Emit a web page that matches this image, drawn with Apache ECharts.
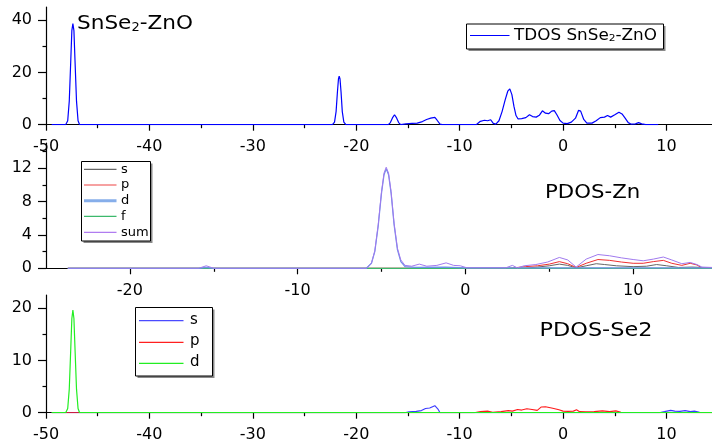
<!DOCTYPE html>
<html>
<head>
<meta charset="utf-8">
<script src="https://cdn.jsdelivr.net/npm/echarts@6/dist/echarts.min.js"></script>
<style>
html,body{margin:0;padding:0;background:#fff;}
#chart{width:712px;height:444px;}
</style>
</head>
<body>
<div id="chart"></div>
<script>
// ---------- DATA ----------
// Top panel: TDOS SnSe2-ZnO  [energy, DOS]
const tdos = [[-49.45,0],[-48.1,0],[-47.9,1.5],[-47.75,9],[-47.6,25],[-47.5,36],[-47.4,38.7],[-47.3,36],[-47.2,25],[-47.05,9],[-46.9,1.5],[-46.75,0],
  [-22.3,0],[-22.1,1],[-21.95,5],[-21.82,12.5],[-21.72,17.5],[-21.65,18.6],[-21.57,17.5],[-21.47,12.5],[-21.35,5],[-21.2,1],[-21.0,0],
  [-16.9,0],[-16.7,0.8],[-16.5,2.6],[-16.3,3.8],[-16.1,2.6],[-15.9,0.8],[-15.7,0],
  [-15.2,0.3],[-14.6,0.5],[-14.1,0.6],[-13.6,1.2],[-13.2,2.0],[-12.8,2.5],[-12.4,2.8],[-12.2,1.8],[-11.9,0.2],[-11.7,0],
  [-8.4,0],[-8.0,1.3],[-7.6,1.7],[-7.3,1.5],[-7.0,1.9],[-6.75,0.5],[-6.5,0.2],
  [-6.2,1.5],[-5.9,5],[-5.6,9.5],[-5.35,12.8],[-5.15,13.7],[-4.95,11.5],[-4.75,7],[-4.55,3.5],[-4.35,2.2],
  [-4.0,2.3],[-3.6,2.7],[-3.25,3.8],[-2.95,3.1],[-2.6,2.9],[-2.3,3.6],[-2.0,5.3],[-1.7,4.4],[-1.4,4.2],[-1.1,5.2],[-0.85,5.4],[-0.6,3.8],[-0.3,1.6],[0,0.6],
  [0.4,0.4],[0.8,1.0],[1.2,2.5],[1.5,5.5],[1.7,5.2],[2.0,2.0],[2.3,0.6],[2.8,0.6],[3.2,1.5],[3.6,2.7],[4.0,2.9],[4.3,3.5],[4.6,2.9],[5.0,3.8],[5.4,4.8],[5.7,4.1],[6.0,2.5],[6.3,0.8],[6.6,0.2],[7.0,0.3],[7.3,0.8],[7.6,0.3],[8.0,0],[9.2,0]];

// Middle panel: PDOS-Zn
const znS = [[-23.7,0],[3.5,0],[4.3,0.15],[5.0,0.3],[5.6,0.5],[6.1,0.35],[6.6,0.05],[7.2,0.3],[7.8,0.55],[8.3,0.45],[9.0,0.3],[10.0,0.2],[10.8,0.25],[11.4,0.45],[12.0,0.3],[12.7,0.1],[13.5,0.15],[14.7,0.05]];
const znP = [[-23.7,0],[2.6,0],[3.1,0.1],[3.6,0.2],[4.3,0.3],[5.0,0.5],[5.6,0.8],[6.1,0.55],[6.6,0.1],[7.2,0.6],[7.9,1.05],[8.6,0.95],[9.3,0.75],[10.0,0.6],[10.6,0.6],[11.2,0.8],[11.8,0.95],[12.3,0.6],[12.9,0.35],[13.4,0.6],[13.8,0.4],[14.1,0.05],[14.7,0.05]];
const znD = [[-23.7,0],[-15.9,0],[-15.45,0.12],[-15.0,0],[-5.9,0],[-5.6,0.6],[-5.4,2],[-5.2,5],[-5.0,9],[-4.85,11.2],[-4.72,11.9],[-4.58,11.2],[-4.43,9],[-4.25,5.2],[-4.05,2.2],[-3.85,0.8],[-3.6,0.2],[-3.0,0.1],[-1.2,0.15],[0,0.05],[14.7,0.05]];
const znF = [[-23.7,0],[14.7,0]];
const znSum = [[-23.7,0],[-15.9,0],[-15.45,0.3],[-15.0,0],[-5.9,0],[-5.6,0.6],[-5.4,2.1],[-5.2,5.2],[-5.0,9.2],[-4.85,11.4],[-4.72,12.1],[-4.58,11.4],[-4.43,9.2],[-4.25,5.4],[-4.05,2.4],[-3.85,1.0],[-3.6,0.35],[-3.2,0.25],[-2.75,0.5],[-2.3,0.25],[-1.7,0.35],[-1.15,0.65],[-0.7,0.35],[-0.3,0.3],[0.1,0.05],[2.4,0.05],[2.8,0.35],[3.1,0.05],[3.5,0.3],[4.2,0.45],[4.9,0.75],[5.6,1.3],[6.1,1.0],[6.6,0.15],[7.2,1.1],[7.9,1.65],[8.6,1.5],[9.3,1.25],[10.0,1.05],[10.6,0.9],[11.2,1.1],[11.8,1.35],[12.3,1.0],[12.9,0.55],[13.4,0.7],[13.8,0.45],[14.1,0.15],[14.7,0.1]];

// Bottom panel: PDOS-Se2
const seS = [[-49.45,0],[-15.3,0],[-14.9,0.15],[-14.2,0.25],[-13.7,0.4],[-13.3,0.8],[-12.9,0.9],[-12.4,1.35],[-12.1,0.7],[-11.9,0],[9.3,0],[9.8,0.2],[10.4,0.45],[10.8,0.3],[11.3,0.25],[11.8,0.4],[12.3,0.2],[12.7,0.3],[13.2,0.1],[14.4,0.05]];
const seP = [[-49.45,0],[-8.6,0],[-8.0,0.2],[-7.3,0.3],[-6.8,0.1],[-6.0,0.2],[-5.3,0.4],[-4.9,0.3],[-4.4,0.6],[-4.0,0.5],[-3.5,0.75],[-3.0,0.6],[-2.5,0.45],[-2.1,1.1],[-1.7,1.15],[-1.0,0.85],[-0.4,0.55],[0,0.3],[0.5,0.25],[1.0,0.3],[1.3,0.55],[1.6,0.2],[2.2,0.15],[3.0,0.2],[3.8,0.35],[4.5,0.2],[5.1,0.35],[5.6,0.1],[6.5,0.05],[14.4,0]];
const seD = [[-49.45,0],[-48.1,0],[-47.9,0.8],[-47.75,4.5],[-47.6,12.5],[-47.5,18],[-47.4,19.6],[-47.3,18],[-47.2,12.5],[-47.05,4.5],[-46.9,0.8],[-46.75,0],[14.4,0]];

// Tick values
const xTicksWide = [-50,-40,-30,-20,-10,0,10];
const xMinorWide = [-45,-35,-25,-15,-5,5];
const xTicksMid = [-20,-10,0,10];
const xMinorMid = [-15,-5,5];
const yTicksTop = [0,20,40];
const yMinorTop = [10,30];
const yTicksMid = [0,4,8,12];
const yMinorMid = [2,6,10,14];
const yTicksBot = [0,10,20];
const yMinorBot = [5,15];

// ---------- CHART ----------
const FONT = 'DejaVu Sans';
const chart = echarts.init(document.getElementById('chart'), null, {renderer:'canvas'});

function xMajor(g, min, max, ticks, margin){
  return {type:'value', gridIndex:g, min:min, max:max, position:'bottom',
    axisLine:{show:true, onZero:false, lineStyle:{color:'#000', width:1.2}},
    axisTick:{show:true, length:6, customValues:ticks, lineStyle:{color:'#000', width:1.2}},
    axisLabel:{show:true, customValues:ticks, margin:margin, fontSize:16, fontFamily:FONT, color:'#000'},
    splitLine:{show:false}};
}
function xMinor(g, min, max, ticks){
  return {type:'value', gridIndex:g, min:min, max:max, position:'bottom',
    axisLine:{show:false, onZero:false},
    axisTick:{show:true, length:3.5, customValues:ticks, lineStyle:{color:'#000', width:1.2}},
    axisLabel:{show:false}, splitLine:{show:false}};
}
function yMajor(g, min, max, ticks){
  return {type:'value', gridIndex:g, min:min, max:max, position:'left',
    axisLine:{show:true, onZero:false, lineStyle:{color:'#000', width:1.2}},
    axisTick:{show:true, length:8, customValues:ticks, lineStyle:{color:'#000', width:1.2}},
    axisLabel:{show:true, customValues:ticks, margin:14, fontSize:16, fontFamily:FONT, color:'#000'},
    splitLine:{show:false}};
}
function yMinor(g, min, max, ticks){
  return {type:'value', gridIndex:g, min:min, max:max, position:'left',
    axisLine:{show:false, onZero:false},
    axisTick:{show:true, length:3.5, customValues:ticks, lineStyle:{color:'#000', width:1.2}},
    axisLabel:{show:false}, splitLine:{show:false}};
}
function line(data, xi, yi, color, w){
  return {type:'line', data:data, xAxisIndex:xi, yAxisIndex:yi, showSymbol:false, symbol:'none',
    lineStyle:{color:color, width:w||1}, itemStyle:{color:color}, animation:false, z:2};
}

function legendBox(x, y, w, h){
  return [
    {type:'rect', shape:{x:x+2, y:y+2, width:w, height:h}, style:{fill:'#8a8a8a'}, z:10},
    {type:'rect', shape:{x:x, y:y, width:w, height:h}, style:{fill:'#fff', stroke:'#000', lineWidth:1}, z:11}
  ];
}
function legendLine(x1, x2, y, color, w){
  return {type:'line', shape:{x1:x1, y1:y, x2:x2, y2:y}, style:{stroke:color, lineWidth:w||1}, z:12};
}
function legendText(x, y, txt, size){
  return {type:'text', x:x, y:y, style:{text:txt, fontSize:size, fontFamily:FONT, fill:'#000', align:'left', verticalAlign:'middle'}, z:12};
}

const graphics = [].concat(
  // top title
  [{type:'text', x:77, y:23.5, scaleX:1.08, z:12,
    style:{text:'SnSe{s|2}-ZnO', fontSize:20, fontFamily:FONT, fill:'#000', align:'left', verticalAlign:'middle',
      rich:{s:{fontSize:12, lineHeight:12, verticalAlign:'bottom', fontFamily:FONT}}}}],
  legendBox(466.5, 24, 197, 25),
  [legendLine(470, 509.5, 35.5, '#0000ff', 1.2),
   {type:'text', x:514, y:36, scaleX:1.12, z:12,
    style:{text:'TDOS SnSe{s|2}-ZnO', fontSize:15, fontFamily:FONT, fill:'#000', align:'left', verticalAlign:'middle',
      rich:{s:{fontSize:9.5, lineHeight:10, verticalAlign:'bottom', fontFamily:FONT}}}}],
  // middle
  legendBox(81.5, 161.5, 69, 79.5),
  [legendLine(84, 116.5, 169.3, '#666666', 1.2), legendText(121, 169.3, 's', 13),
   legendLine(84, 116.5, 185, '#ee4444', 1.2), legendText(121, 185, 'p', 13),
   legendLine(84, 116.5, 200.7, '#86aeea', 3), legendText(121, 200.7, 'd', 13),
   legendLine(84, 116.5, 216.3, '#3cb96c', 1.2), legendText(121, 216.3, 'f', 13),
   legendLine(84, 116.5, 232.3, '#b07cf0', 1.2), legendText(121, 232.3, 'sum', 13)],
  [{type:'text', x:545, y:193, scaleX:1.12, z:12,
    style:{text:'PDOS-Zn', fontSize:19, fontFamily:FONT, fill:'#000', align:'left', verticalAlign:'middle'}}],
  // bottom
  legendBox(135.5, 307.5, 77, 68.5),
  [legendLine(139, 183.5, 320.7, '#4a4aff', 1.2), legendText(190, 320, 's', 15),
   legendLine(139, 183.5, 342.3, '#ff2020', 1.2), legendText(190, 341.5, 'p', 15),
   legendLine(139, 183.5, 363.3, '#22ee22', 1.2), legendText(190, 362.5, 'd', 15)],
  [{type:'text', x:539.5, y:331, scaleX:1.12, z:12,
    style:{text:'PDOS-Se2', fontSize:20, fontFamily:FONT, fill:'#000', align:'left', verticalAlign:'middle'}}]
);

const option = {
  backgroundColor:'#fff',
  animation:false,
  grid:[
    {left:46, top:7, width:666, height:117.7},
    {left:46, top:143, width:666, height:125.3},
    {left:46, top:295, width:666, height:117.7}
  ],
  xAxis:[
    xMajor(0,-50,14.4,xTicksWide,14), xMinor(0,-50,14.4,xMinorWide),
    xMajor(1,-25,14.7,xTicksMid,15), xMinor(1,-25,14.7,xMinorMid),
    xMajor(2,-50,14.4,xTicksWide,14), xMinor(2,-50,14.4,xMinorWide)
  ],
  yAxis:[
    yMajor(0,0,45,yTicksTop), yMinor(0,0,45,yMinorTop),
    yMajor(1,0,15,yTicksMid), yMinor(1,0,15,yMinorMid),
    yMajor(2,0,22.5,yTicksBot), yMinor(2,0,22.5,yMinorBot)
  ],
  series:[
    line(tdos,0,0,'#0000ff',1.2),
    line(znS,2,2,'#666666',1),
    line(znP,2,2,'#ee3030',1),
    line(znF,2,2,'#3cb96c',1.2),
    line(znD,2,2,'#6f8fe8',1.2),
    line(znSum,2,2,'#a07aee',1),
    line(seS,4,4,'#3a3aff',1.1),
    line(seP,4,4,'#ff1a1a',1.1),
    line(seD,4,4,'#22ee22',1.2)
  ],
  graphic:graphics
};
chart.setOption(option);
</script>
</body>
</html>
